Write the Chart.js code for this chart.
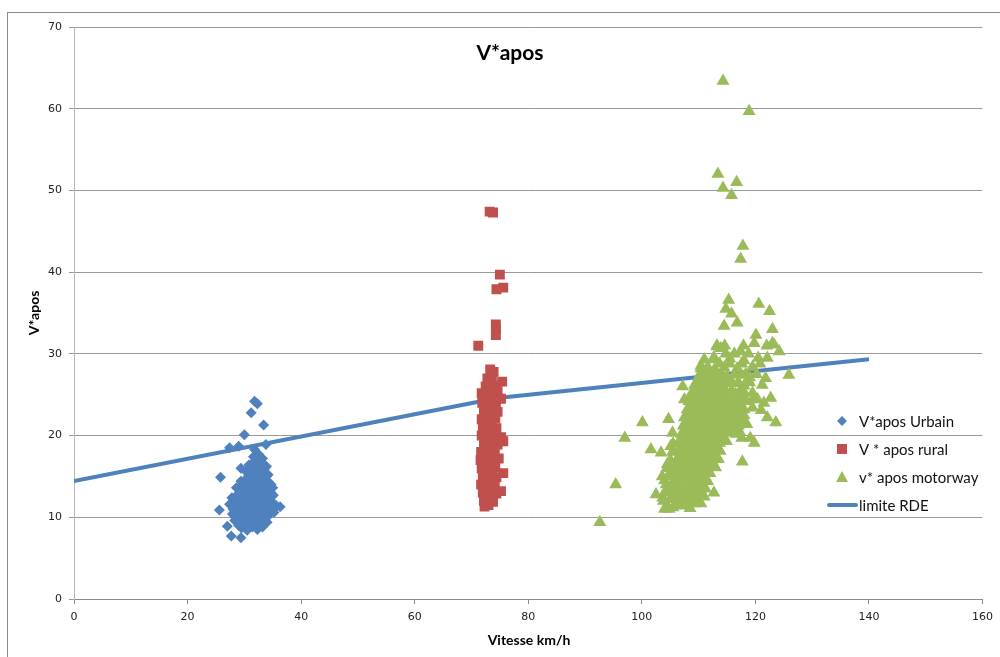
<!DOCTYPE html>
<html>
<head>
<meta charset="utf-8">
<title>V*apos</title>
<script src="https://cdn.jsdelivr.net/npm/chart.js@4/dist/chart.umd.min.js"></script>
<style>
  html, body { margin: 0; padding: 0; background: #fff; overflow: hidden; }
  #chart { display: block; }
</style>
</head>
<body>
<canvas id="chart" width="1000" height="657"></canvas>
<script>
// textes
const chartTitle = 'V*apos';
const xTitle = 'Vitesse km/h';
const yTitle = 'V*apos';
const seriesNames = ['V*apos Urbain', 'V * apos rural', 'v* apos motorway', 'limite RDE'];

// axes
const xTicks = [0, 20, 40, 60, 80, 100, 120, 140, 160];
const yTicks = [0, 10, 20, 30, 40, 50, 60, 70];

// points urbains [vitesse, V*apos]
const urbain = [
  [31.8,24.2],[32.3,23.9],[31.2,22.8],[33.4,21.3],[30.0,20.1],[27.4,18.5],[29.0,18.7],[31.8,18.3],
  [33.8,18.9],[25.8,14.9],[29.4,16.0],[25.6,10.9],[27.7,7.7],[29.4,7.5],[27.0,8.9],[36.3,11.3],
  [31.6,17.4],[32.5,17.7],[33.2,17.2],[32.0,17.0],[32.9,17.0],
  [30.8,16.4],[31.6,16.7],[32.4,16.3],[33.2,16.6],[33.9,16.2],[31.2,16.0],[32.0,16.0],[32.8,16.0],[33.6,16.0],
  [30.3,15.6],[31.1,15.3],[31.9,15.7],[32.7,15.4],[33.5,15.6],[34.2,15.2],[30.7,15.0],[31.5,15.0],[32.3,15.0],[33.1,15.0],[33.9,15.0],
  [29.4,14.4],[30.3,14.7],[31.1,14.3],[31.9,14.6],[32.7,14.4],[33.5,14.7],[34.3,14.3],
  [29.8,14.0],[30.7,14.0],[31.5,14.0],[32.3,14.0],[33.1,14.0],[33.9,14.0],[34.7,14.0],
  [28.6,13.6],[29.5,13.3],[30.3,13.7],[31.1,13.4],[31.9,13.6],[32.7,13.3],[33.5,13.7],[34.3,13.4],[35.0,13.6],
  [29.1,13.0],[29.9,13.0],[30.7,13.0],[31.5,13.0],[32.3,13.0],[33.1,13.0],[33.9,13.0],[34.7,13.0],
  [27.8,12.4],[28.7,12.7],[29.5,12.3],[30.3,12.6],[31.1,12.4],[31.9,12.7],[32.7,12.3],[33.5,12.6],[34.3,12.4],[35.1,12.7],
  [28.3,12.0],[29.1,12.0],[29.9,12.0],[30.7,12.0],[31.5,12.0],[32.3,12.0],[33.1,12.0],[33.9,12.0],[34.7,12.0],
  [27.4,11.6],[28.3,11.3],[29.1,11.7],[29.9,11.4],[30.7,11.6],[31.5,11.3],[32.3,11.7],[33.1,11.4],[33.9,11.6],[34.7,11.3],[35.5,11.5],
  [28.0,11.0],[28.8,11.0],[29.6,11.0],[30.4,11.0],[31.2,11.0],[32.0,11.0],[32.8,11.0],[33.6,11.0],[34.4,11.0],[35.2,11.0],
  [27.9,10.4],[28.8,10.7],[29.6,10.3],[30.4,10.6],[31.2,10.4],[32.0,10.7],[32.8,10.3],[33.6,10.6],[34.4,10.4],[35.2,10.6],
  [28.4,10.0],[29.2,10.0],[30.0,10.0],[30.8,10.0],[31.6,10.0],[32.4,10.0],[33.2,10.0],[34.0,10.0],
  [28.3,9.6],[29.2,9.3],[30.0,9.7],[30.8,9.4],[31.6,9.6],[32.4,9.3],[33.2,9.7],[34.0,9.4],
  [29.0,9.0],[29.9,9.0],[30.8,9.0],[31.7,9.0],[32.6,9.0],
  [29.5,8.7],[30.5,8.4],[31.4,8.8],[32.3,8.5],[33.2,8.8]
];

// points ruraux
const rural = [
  [73.2,47.4],[73.8,47.3],[75.0,39.7],[75.6,38.1],[74.4,37.9],[74.3,33.6],[74.3,33.0],[74.3,32.3],[71.2,31.0],
  [73.3,28.1],[73.9,27.8],[75.4,26.6],[72.8,27.0],[73.6,26.9],
  [72.5,26.0],[73.2,25.8],[74.0,26.1],[74.6,25.7],
  [71.8,25.2],[72.6,24.9],[73.4,25.3],[74.2,24.9],[75.2,24.5],
  [71.9,24.0],[72.7,24.2],[73.5,23.9],[74.3,24.1],
  [72.2,23.0],[73.0,22.8],[73.8,23.1],[74.6,22.9],
  [71.8,22.0],[72.6,22.2],[73.4,21.9],[74.2,22.1],
  [72.0,21.0],[72.8,20.8],[73.6,21.1],[74.4,20.9],
  [71.8,20.0],[72.6,20.2],[73.4,19.9],[74.2,20.1],[75.2,19.8],
  [72.2,19.0],[73.0,18.8],[73.8,19.1],[74.6,18.9],[75.6,19.3],
  [71.7,18.0],[72.5,18.2],[73.3,17.9],[74.1,18.1],
  [71.6,17.0],[72.4,16.8],[73.2,17.1],[74.0,16.9],[74.8,17.2],
  [71.8,16.0],[72.6,16.2],[73.4,15.9],[74.2,16.1],
  [72.0,15.0],[72.8,14.8],[73.6,15.1],[74.4,14.9],[75.6,15.4],
  [71.7,14.0],[72.5,14.2],[73.3,13.9],[74.1,14.1],
  [72.0,13.0],[72.8,12.8],[73.6,13.1],[74.4,12.9],[75.2,13.2],
  [72.2,12.0],[73.0,12.2],[73.8,11.9],
  [72.3,11.3],[73.0,11.5]
];

// points autoroute
const motorway = [
  [114.3,63.4],[118.9,59.7],[113.4,52.0],[116.7,51.0],[114.3,50.3],[115.8,49.4],[117.8,43.2],[117.4,41.6],
  [115.3,36.6],[120.6,36.1],[114.8,35.5],[115.8,34.9],[122.5,35.2],[114.5,33.4],[116.8,33.8],[123.0,33.0],
  [120.1,32.3],[92.6,9.4],[95.4,14.0],[97.0,19.7],[100.1,21.6],[104.7,22.0],[101.6,18.3],[103.4,17.9],
  [102.5,12.8],[104.3,11.1],[103.7,12.4],[105.4,20.3],[125.9,27.4],[123.6,21.6],[122.1,22.2],[119.8,19.1],
  [117.7,16.8],[112.7,13.0],[117.6,19.7],[119.1,19.7],[122.7,24.6],[121.8,27.0],[124.2,30.3],[123.0,31.3],
  [122.1,29.5],[121.2,26.2],[120.4,24.4],[110.4,28.5],[113.9,30.7],[117.4,30.3],[112.7,29.3],[107.2,26.0],
  [107.5,24.4],[104.5,16.5],[105.0,15.3],[104.0,14.5],[105.1,18.7],[113.3,30.9],[119.8,31.3],[123.3,31.1],
  [104.0,11.0],[104.8,11.0],[103.8,12.0],[104.0,13.0],[104.3,14.0],[103.6,15.0],[104.6,15.0],
  [104.4,16.0],[105.0,16.0],[105.0,17.0],[105.4,18.0],[105.5,19.0],
  [116.0,20.5],[117.2,20.5],[116.3,21.5],[117.5,21.5],[116.7,22.5],[118.0,22.5],
  [115.8,23.5],[117.3,23.5],[116.2,24.5],[117.8,24.5],[119.6,24.5],[115.8,25.5],[117.3,25.5],
  [115.0,26.5],[117.0,26.5],[119.0,26.5],[114.0,27.5],[116.3,27.5],[118.3,27.5],[120.2,27.5],
  [113.7,28.8],[115.5,28.8],[117.6,28.8],[120.8,28.8],
  [114.8,30.0],[116.3,30.0],[118.8,30.0],[113.2,31.0],[114.6,31.0],[117.9,31.0],[122.0,31.0],
  [105.5,11.2],[107.0,11.4],[108.5,11.1],
  [106.2,11.7],[107.7,11.7],[109.2,11.7],[110.4,11.7],
  [105.0,12.2],[106.2,12.4],[107.4,12.1],[108.6,12.3],[109.8,12.2],[111.0,12.5],
  [105.6,12.7],[106.8,12.7],[108.0,12.7],[109.2,12.7],[110.4,12.7],
  [105.2,13.2],[106.4,13.4],[107.6,13.1],[108.8,13.3],[110.0,13.2],[111.2,13.5],
  [105.0,13.7],[106.2,13.7],[107.4,13.7],[108.6,13.7],[109.8,13.7],[111.0,13.7],
  [105.6,14.2],[106.8,14.4],[108.0,14.1],[109.2,14.3],[110.4,14.2],[111.6,14.4],
  [106.4,14.7],[107.6,14.7],[108.8,14.7],[110.0,14.7],[111.2,14.7],
  [106.0,15.2],[107.2,15.4],[108.4,15.1],[109.6,15.3],[110.8,15.2],[112.0,15.4],
  [106.6,15.7],[107.8,15.7],[109.0,15.7],[110.2,15.7],[111.4,15.7],
  [105.8,16.2],[107.0,16.4],[108.2,16.1],[109.4,16.3],[110.6,16.2],[111.8,16.4],[113.0,16.1],
  [106.4,16.7],[107.6,16.7],[108.8,16.7],[110.0,16.7],[111.2,16.7],[112.4,16.7],
  [106.3,17.2],[107.5,17.4],[108.7,17.1],[109.9,17.3],[111.1,17.2],[112.3,17.4],[113.5,17.1],
  [106.9,17.7],[108.1,17.7],[109.3,17.7],[110.5,17.7],[111.7,17.7],[112.9,17.7],
  [106.6,18.2],[107.8,18.4],[109.0,18.1],[110.2,18.3],[111.4,18.2],[112.6,18.4],[113.8,18.1],
  [107.2,18.7],[108.4,18.7],[109.6,18.7],[110.8,18.7],[112.0,18.7],[113.2,18.7],
  [106.5,19.2],[107.7,19.4],[108.9,19.1],[110.1,19.3],[111.3,19.2],[112.5,19.4],[113.7,19.1],[114.9,19.3],
  [107.1,19.7],[108.3,19.7],[109.5,19.7],[110.7,19.7],[111.9,19.7],[113.1,19.7],[114.3,19.7],
  [107.0,20.2],[108.2,20.4],[109.4,20.1],[110.6,20.3],[111.8,20.2],[113.0,20.4],[114.2,20.1],[115.4,20.3],[116.6,20.2],
  [107.6,20.7],[108.8,20.7],[110.0,20.7],[111.2,20.7],[112.4,20.7],[113.6,20.7],[114.8,20.7],
  [107.3,21.2],[108.5,21.4],[109.7,21.1],[110.9,21.3],[112.1,21.2],[113.3,21.4],[114.5,21.1],[115.7,21.3],[117.0,21.2],[118.5,21.4],
  [107.9,21.7],[109.1,21.7],[110.3,21.7],[111.5,21.7],[112.7,21.7],[113.9,21.7],[115.1,21.7],
  [107.5,22.2],[108.7,22.4],[109.9,22.1],[111.1,22.3],[112.3,22.2],[113.5,22.4],[114.7,22.1],[116.0,22.3],[117.3,22.2],
  [108.1,22.7],[109.3,22.7],[110.5,22.7],[111.7,22.7],[112.9,22.7],[114.1,22.7],[115.4,22.7],
  [108.0,23.2],[109.2,23.4],[110.4,23.1],[111.6,23.3],[112.8,23.2],[114.0,23.4],[115.2,23.1],[116.5,23.3],[118.0,23.2],[119.5,23.4],[121.0,23.1],
  [108.6,23.7],[109.8,23.7],[111.0,23.7],[112.2,23.7],[113.4,23.7],[114.6,23.7],
  [108.3,24.2],[109.5,24.4],[110.7,24.1],[111.9,24.3],[113.1,24.2],[114.3,24.4],[115.5,24.1],[117.0,24.3],[118.5,24.2],[121.5,24.0],
  [108.9,24.7],[110.1,24.7],[111.3,24.7],[112.5,24.7],[113.7,24.7],[115.0,24.7],
  [108.8,25.2],[110.0,25.4],[111.2,25.1],[112.4,25.3],[113.6,25.2],[114.8,25.4],[116.5,25.1],[118.0,25.3],[119.5,25.2],
  [109.4,25.7],[110.6,25.7],[111.8,25.7],[113.0,25.7],[114.2,25.7],
  [109.3,26.2],[110.5,26.4],[111.7,26.1],[112.9,26.3],[114.2,26.2],[116.0,26.4],[118.0,26.1],
  [109.9,26.7],[111.1,26.7],[112.3,26.7],[113.5,26.7],
  [110.0,27.2],[111.2,27.4],[112.4,27.1],[113.6,27.3],[115.0,27.2],[117.5,27.4],[119.0,27.1],
  [110.8,27.7],[112.0,27.7],[113.2,27.7],
  [110.4,28.2],[111.6,28.4],[112.8,28.1],[114.5,28.3],[116.8,28.2],[119.5,28.4],
  [111.0,29.3],[112.7,29.6],[115.5,29.4],[118.0,29.2],[120.5,29.5]
];

// limite RDE (deux segments, cassure à 74,6 km/h)
const limiteX = [0, 74.6, 140];
const limiteY = [14.44, 24.59, 29.35];

const BLUE = '#4F81BD';
const RED = '#C0504D';
const GREEN = '#9BBB59';

function toPoints(arr) {
  return arr.map(p => ({ x: p[0], y: p[1] }));
}

// titre, titres d'axes, légende et cadre
const decorPlugin = {
  id: 'decor',
  beforeDraw(chart) {
    const ctx = chart.ctx;
    ctx.save();
    ctx.fillStyle = '#fff';
    ctx.fillRect(0, 0, chart.width, chart.height);
    ctx.strokeStyle = '#8c8c8c';
    ctx.lineWidth = 1;
    ctx.strokeRect(7.5, 12.5, 1200, 900);
    ctx.restore();
  },
  afterDraw(chart) {
    const ctx = chart.ctx;
    ctx.save();
    ctx.fillStyle = '#000';
    ctx.textBaseline = 'middle';
    ctx.textAlign = 'center';
    ctx.font = 'bold 21px Lato, "Open Sans", sans-serif';
    ctx.fillText(chartTitle, 510, 53);

    ctx.font = 'bold 14px Lato, "Open Sans", sans-serif';
    ctx.fillText(xTitle, 529, 640);
    ctx.save();
    ctx.translate(34, 313);
    ctx.rotate(-Math.PI / 2);
    ctx.fillText(yTitle, 0, 0);
    ctx.restore();

    // légende
    const rows = [421, 449, 477, 505];
    const mx = 842;
    ctx.textAlign = 'left';
    ctx.font = '15px Lato, "Open Sans", sans-serif';
    // losange
    ctx.fillStyle = BLUE;
    ctx.beginPath();
    ctx.moveTo(mx, rows[0] - 5); ctx.lineTo(mx + 5, rows[0]); ctx.lineTo(mx, rows[0] + 5); ctx.lineTo(mx - 5, rows[0]);
    ctx.closePath(); ctx.fill();
    // carré
    ctx.fillStyle = RED;
    ctx.fillRect(mx - 5, rows[1] - 5, 10, 10);
    // triangle
    ctx.fillStyle = GREEN;
    ctx.beginPath();
    ctx.moveTo(mx, rows[2] - 6); ctx.lineTo(mx + 6, rows[2] + 5); ctx.lineTo(mx - 6, rows[2] + 5);
    ctx.closePath(); ctx.fill();
    // ligne
    ctx.strokeStyle = BLUE;
    ctx.lineWidth = 4;
    ctx.lineCap = 'round';
    ctx.beginPath();
    ctx.moveTo(829, rows[3]); ctx.lineTo(856, rows[3]);
    ctx.stroke();

    ctx.fillStyle = '#111';
    seriesNames.forEach((name, i) => {
      ctx.fillText(name, 859, rows[i] + 1);
    });
    ctx.restore();
  }
};

new Chart(document.getElementById('chart'), {
  type: 'scatter',
  data: {
    datasets: [
      {
        label: seriesNames[0],
        data: toPoints(urbain),
        pointStyle: 'rectRot',
        pointRadius: 5.5,
        backgroundColor: BLUE,
        borderColor: BLUE,
        borderWidth: 0
      },
      {
        label: seriesNames[1],
        data: toPoints(rural),
        pointStyle: 'rect',
        pointRadius: 7,
        backgroundColor: RED,
        borderColor: RED,
        borderWidth: 0
      },
      {
        label: seriesNames[2],
        data: toPoints(motorway),
        pointStyle: 'triangle',
        pointRadius: 7.5,
        backgroundColor: GREEN,
        borderColor: GREEN,
        borderWidth: 0
      },
      {
        label: seriesNames[3],
        type: 'line',
        data: limiteX.map((x, i) => ({ x: x, y: limiteY[i] })),
        showLine: true,
        borderColor: BLUE,
        borderWidth: 4,
        pointRadius: 0,
        tension: 0,
        fill: false
      }
    ]
  },
  options: {
    responsive: false,
    animation: false,
    layout: { padding: { top: 27, right: 14, left: 0, bottom: 0 } },
    plugins: {
      legend: { display: false },
      title: { display: false },
      tooltip: { enabled: false }
    },
    scales: {
      x: {
        type: 'linear',
        min: 0,
        max: 160,
        afterFit(scale) { scale.height = 58; },
        afterBuildTicks(scale) { scale.ticks = xTicks.map(v => ({ value: v })); },
        ticks: {
          padding: 7,
          color: '#222',
          font: { family: '"DejaVu Sans", sans-serif', size: 11 }
        },
        grid: {
          drawOnChartArea: false,
          drawTicks: true,
          tickLength: 5,
          color: '#8c8c8c'
        },
        border: { color: '#8c8c8c', width: 1 }
      },
      y: {
        type: 'linear',
        min: 0,
        max: 70,
        afterFit(scale) { scale.width = 74; },
        afterBuildTicks(scale) { scale.ticks = yTicks.map(v => ({ value: v })); },
        ticks: {
          padding: 7,
          color: '#222',
          font: { family: '"DejaVu Sans", sans-serif', size: 11 }
        },
        grid: {
          drawTicks: true,
          tickLength: 5,
          color: '#9a9a9a'
        },
        border: { color: '#b8b8b8', width: 1 }
      }
    }
  },
  plugins: [decorPlugin]
});
</script>
</body>
</html>
